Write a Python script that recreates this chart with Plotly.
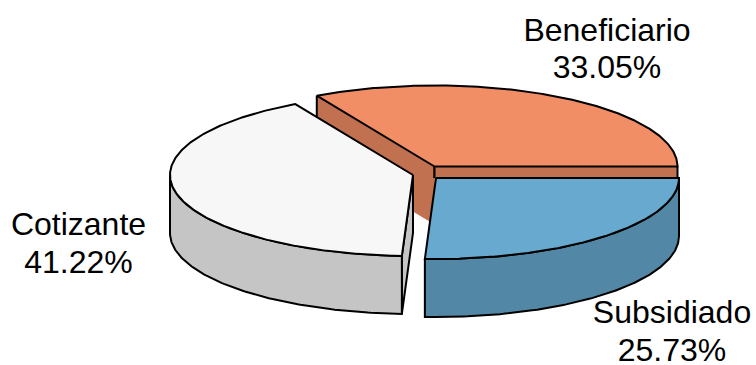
import numpy as np
import plotly.graph_objects as go

categories = ["Beneficiario", "Cotizante", "Subsidiado"]
percent = [33.05, 41.22, 25.73]
percent_labels = ["33.05%", "41.22%", "25.73%"]

top_colors = ["#F28E66", "#F7F7F7", "#67A9CF"]
side_colors = ["#C1714F", "#C5C5C5", "#5287A5"]
centers = [(434.5, 166.5), (413, 175), (436, 178)]
label_pos = [(607, 33, 70), (78.5, 227, 265), (672, 315, 353)]

RX, RY, H = 243, 81, 58
EDGE = "#000000"
LW = 2

fig = go.Figure()


def rim(c, a):
    return c[0] + RX * np.cos(a), c[1] - RY * np.sin(a)


def poly(xs, ys, fill=None, line=True):
    fig.add_trace(go.Scatter(
        x=list(xs), y=list(ys), mode="lines" if line else "none",
        fill="toself" if fill else "none", fillcolor=fill,
        line=dict(color=EDGE, width=LW, shape="linear"),
        hoverinfo="skip", showlegend=False))


def face(c, a, fill):
    rx, ry = rim(c, a)
    poly([c[0], rx, rx, c[0]], [c[1], ry, ry + H, c[1] + H], fill, line=False)
    poly([c[0], c[0]], [c[1], c[1] + H * 0.2], None)
    poly([rx, rx], [ry, ry + H], None)


def outer(c, a0, a1, fill):
    t = np.linspace(a0, a1, 120)
    x, y = rim(c, t)
    poly(np.r_[x, x[::-1], x[0]], np.r_[y, y[::-1] + H, y[0]], fill)


def top(c, a0, a1, fill):
    t = np.linspace(a0, a1, 240)
    x, y = rim(c, t)
    poly(np.r_[c[0], x, c[0]], np.r_[c[1], y, c[1]], fill)


edges = np.cumsum([0] + percent) / sum(percent) * 2 * np.pi

# Beneficiario: two cut faces show behind the other slices
c = centers[0]
face(c, edges[1], side_colors[0])
face(c, edges[0], side_colors[0])
top(c, edges[0], edges[1], top_colors[0])

# Cotizante: closing cut face and the front wall
c = centers[1]
rx, ry = rim(c, edges[2])
poly([c[0], rx, rx, c[0], c[0]], [c[1], ry, ry + H, c[1] + H, c[1]], side_colors[1])
outer(c, np.pi, edges[2], side_colors[1])
top(c, edges[1], edges[2], top_colors[1])

# Subsidiado: front wall
c = centers[2]
outer(c, edges[2], edges[3], side_colors[2])
top(c, edges[2], edges[3], top_colors[2])

for name, pct, (lx, y1, y2) in zip(categories, percent_labels, label_pos):
    fig.add_trace(go.Scatter(
        x=[lx, lx], y=[y1, y2], mode="text", text=[name, pct],
        textposition="middle center",
        textfont=dict(family="Liberation Sans", size=32, color="#000000"),
        hoverinfo="skip", showlegend=False, cliponaxis=False))

fig.update_layout(
    width=756, height=365, margin=dict(l=0, r=0, t=0, b=0),
    paper_bgcolor="white", plot_bgcolor="white", showlegend=False,
    xaxis=dict(range=[0, 756], visible=False, fixedrange=True),
    yaxis=dict(range=[365, 0], visible=False, fixedrange=True),
)
fig.write_html("out.html", config={"displayModeBar": False},
               post_script="document.body.style.margin='0';")
